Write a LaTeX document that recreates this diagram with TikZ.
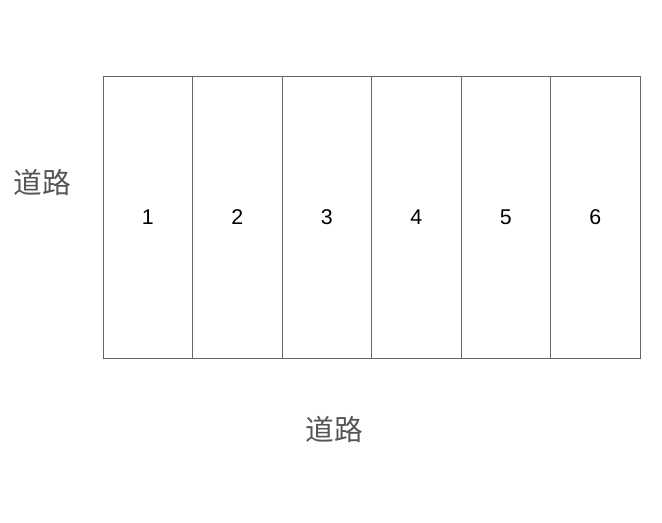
\documentclass[tikz,border=0pt]{standalone}
\usepackage{fontspec}
\setmainfont{Liberation Sans}
\newfontfamily\cjk{Noto Sans CJK SC}
\usepackage{tikz}
\tikzset{
  plot/.style={draw={rgb,255:red,102;green,102;blue,102},line width=0.75pt,minimum width=89.5*0.75pt,minimum height=282*0.75pt,inner sep=0pt,font=\fontsize{16}{19}\selectfont},
  road/.style={text={rgb,255:red,85;green,85;blue,85},font=\cjk\fontsize{21.5}{26}\selectfont}
}
\begin{document}
\begin{tikzpicture}[x=0.75pt,y=0.75pt,yscale=-1,xscale=1]
\useasboundingbox (0,0) rectangle (662,523);

% Plots
\node [plot] (p1) at (147.75,217.5) {1};
\node [plot] (p2) at (237.25,217.5) {2};
\node [plot] (p3) at (326.75,217.5) {3};
\node [plot] (p4) at (416.25,217.5) {4};
\node [plot] (p5) at (505.75,217.5) {5};
\node [plot] (p6) at (595.25,217.5) {6};

% Text Node
\node [road] (roadleft) at (42,183) {道路};
% Text Node
\node [road] (roadbottom) at (334,430) {道路};

\end{tikzpicture}
\end{document}
